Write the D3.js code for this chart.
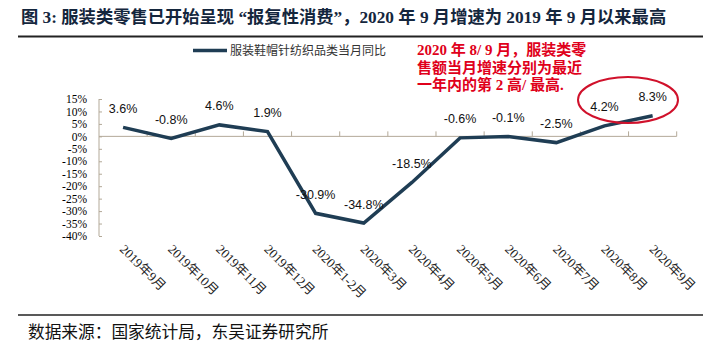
<!DOCTYPE html>
<html><head><meta charset="utf-8">
<script src="https://cdn.jsdelivr.net/npm/d3@7/dist/d3.min.js"></script>
<style>body{margin:0;background:#fff}svg{display:block}</style>
</head><body>
<svg id="c" width="721" height="355"></svg>
<script>
const categories = ["2019年9月","2019年10月","2019年11月","2019年12月","2020年1-2月","2020年3月","2020年4月","2020年5月","2020年6月","2020年7月","2020年8月","2020年9月"];
const values = [3.6,-0.8,4.6,1.9,-30.9,-34.8,-18.5,-0.6,-0.1,-2.5,4.2,8.3];
const yTicks = [15,10,5,0,-5,-10,-15,-20,-25,-30,-35,-40];
const seriesName = "服装鞋帽针纺织品类当月同比";
const titleText = "图 3: 服装类零售已开始呈现 “报复性消费”，2020 年 9 月增速为 2019 年 9 月以来最高";
const noteLines = ["2020 年 8/ 9 月，服装类零","售额当月增速分别为最近","一年内的第 2 高/ 最高."];
const sourceText = "数据来源：国家统计局，东吴证券研究所";

const svg = d3.select("#c");
const serif = "'Liberation Serif','Noto Sans CJK SC',serif";
const cjk = "'Noto Sans CJK SC',sans-serif";
const axisColor = "#b3a998";

const x = d3.scaleBand().domain(categories).range([99, 676.7]);
const y = d3.scaleLinear().domain([-40, 15]).range([236, 99]);

// title
svg.append("text").attr("x", 21).attr("y", 23).attr("font-family", serif)
  .attr("font-weight", "bold").attr("font-size", 17.3).attr("fill", "#14263d").text(titleText);
svg.append("line").attr("x1", 18).attr("x2", 703).attr("y1", 36.5).attr("y2", 36.5)
  .attr("stroke", "#222").attr("stroke-width", 2);

// y axis
const yAxis = d3.axisLeft(y).tickValues(yTicks).tickSize(-3).tickPadding(12).tickFormat(d => d + "%");
const gy = svg.append("g").attr("transform", "translate(99,0)").call(yAxis);
gy.select(".domain").attr("stroke", axisColor).attr("d", "M0," + y(15) + "V" + y(-40));
gy.selectAll(".tick line").attr("stroke", axisColor);
gy.selectAll(".tick text").attr("font-family", serif).attr("font-size", 11.5).attr("fill", "#000");

// zero line with ticks
const gx = svg.append("g").attr("transform", "translate(0," + y(0) + ")");
gx.append("line").attr("x1", x.range()[0]).attr("x2", x.range()[1]).attr("stroke", axisColor).attr("stroke-width", 1);
const bounds = categories.map(c => x(c)).concat([x.range()[1]]).slice(1);
gx.selectAll("line.t").data(bounds).join("line").attr("class", "t")
  .attr("x1", d => d).attr("x2", d => d).attr("y1", 0).attr("y2", -5).attr("stroke", axisColor);

// x labels
svg.append("g").selectAll("text").data(categories).join("text")
  .attr("transform", d => "translate(" + (x(d) + x.bandwidth() / 2 - 4) + ",250) rotate(45)")
  .attr("font-family", serif).attr("font-size", 13).attr("fill", "#222").text(d => d);

// line
const cx = d => x(d) + x.bandwidth() / 2;
const line = d3.line().x((d, i) => cx(categories[i])).y(d => y(d));
svg.append("path").datum(values).attr("d", line).attr("fill", "none")
  .attr("stroke", "#1f3d54").attr("stroke-width", 3.5).attr("stroke-linejoin", "miter");

// data labels
svg.append("g").selectAll("text").data(values).join("text")
  .attr("x", (d, i) => cx(categories[i])).attr("y", d => y(d) - 14.5)
  .attr("text-anchor", "middle").attr("font-family", "'Liberation Sans',Arial,sans-serif")
  .attr("font-size", 12.5).attr("fill", "#111").text(d => d.toFixed(1) + "%");

// legend
svg.append("line").attr("x1", 193).attr("x2", 227).attr("y1", 50.5).attr("y2", 50.5)
  .attr("stroke", "#1f3d54").attr("stroke-width", 3.5);
svg.append("text").attr("x", 230).attr("y", 55).attr("font-family", cjk).attr("font-size", 12)
  .attr("fill", "#333").text(seriesName);

// note
svg.append("g").selectAll("text").data(noteLines).join("text")
  .attr("x", 417).attr("y", (d, i) => 55 + i * 17.5)
  .attr("font-family", serif).attr("font-weight", "bold").attr("font-size", 15)
  .attr("fill", "#e0001b").text(d => d);
svg.append("ellipse").attr("cx", 628).attr("cy", 100).attr("rx", 50).attr("ry", 23)
  .attr("fill", "none").attr("stroke", "#d0112b").attr("stroke-width", 2);

// source
svg.append("line").attr("x1", 18).attr("x2", 703).attr("y1", 315).attr("y2", 315)
  .attr("stroke", "#222").attr("stroke-width", 1.5);
svg.append("text").attr("x", 28).attr("y", 338).attr("font-family", cjk).attr("font-size", 16.7)
  .attr("fill", "#111").text(sourceText);
</script>
</body></html>
